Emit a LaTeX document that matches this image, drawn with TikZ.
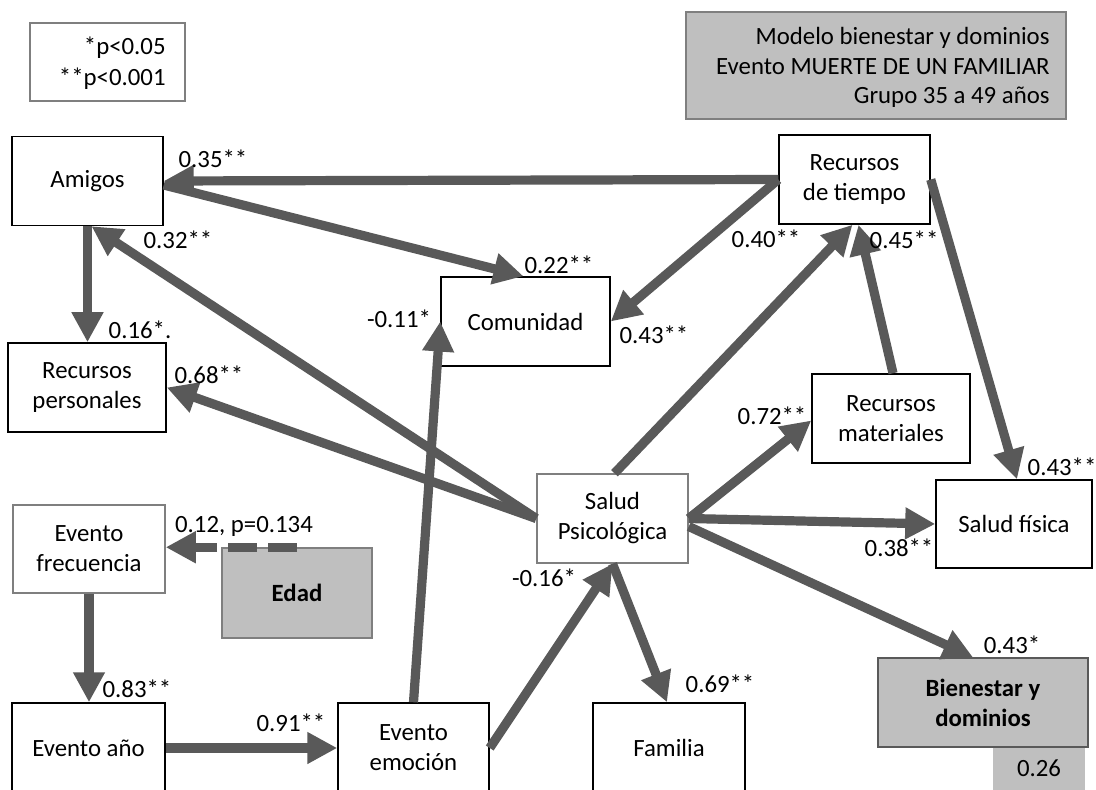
\documentclass[tikz,border=0pt]{standalone}
\usepackage{fontspec}
\setmainfont{Carlito}
\usetikzlibrary{arrows.meta}
\definecolor{arrowgray}{HTML}{595959}
\definecolor{boxgray}{HTML}{BFBFBF}
\definecolor{edgegray}{HTML}{7F7F7F}
\begin{document}
\begin{tikzpicture}[x=0.5pt,y=-0.5pt,
  every node/.style={font=\fontsize{12.4}{15}\selectfont, inner sep=0pt},
  varbox/.style={draw=black, line width=0.75pt, fill=white, align=center,
    minimum width=75.5pt, minimum height=44.5pt},
  softbox/.style={varbox, draw=edgegray},
  shadebox/.style={varbox, draw=edgegray, fill=boxgray, font=\fontsize{12.4}{15}\selectfont\bfseries},
  path/.style={draw=arrowgray, line width=4.6pt, -{Triangle[length=15pt,width=15pt]}},
  weak/.style={path, dash pattern=on 14.5pt off 5.5pt},
  coef/.style={anchor=center}]
\clip (0,0) rectangle (1096,790);
\fill[white] (0,0) rectangle (1096,790);

% legend and title
\node[draw=edgegray, line width=0.75pt, minimum width=77.5pt, minimum height=39pt] (legend) at (107.5,62) {};
\node[anchor=east, align=right, font=\fontsize{12.4}{15.5}\selectfont] (legendtxt) at (166,63) {*p<0.05\\**p<0.001};
\node[draw=edgegray, fill=boxgray, line width=0.75pt, minimum width=190pt, minimum height=53.5pt] (title) at (876,65.5) {};
\node[anchor=east, align=right, font=\fontsize{12.4}{14.75}\selectfont] (titletxt) at (1050,67.5)
  {Modelo bienestar y dominios\\Evento MUERTE DE UN FAMILIAR\\Grupo 35 a 49 años};

% variables
\node[varbox] (amigos) at (87.5,181) {Amigos};
\node[varbox] (rtiempo) at (854.5,179.5) {Recursos\\de tiempo};
\node[varbox, minimum width=84.5pt] (comunidad) at (525.5,321.5) {Comunidad};
\node[varbox, minimum width=79pt] (rpers) at (87,387.5) {Recursos\\personales};
\node[varbox, minimum width=79pt] (rmat) at (891,418.5) {Recursos\\materiales};
\node[softbox] (salpsi) at (612.5,518.5) {Salud\\Psicológica};
\node[varbox, minimum width=78pt, minimum height=44pt] (salfis) at (1014,524) {Salud física};
\node[softbox, minimum width=76pt, minimum height=44pt] (evfrec) at (89,549) {Evento\\frecuencia};
\node[shadebox, minimum width=75pt, minimum height=45pt] (edad) at (297,593) {Edad};
\node[varbox, minimum width=76.5pt, minimum height=45pt] (evano) at (88.5,748) {Evento año};
\node[varbox, minimum height=45pt] (evemo) at (413.5,748) {Evento\\emoción};
\node[varbox, minimum width=76pt, minimum height=45pt] (familia) at (669,748) {Familia};
\node[shadebox, draw=arrowgray, minimum width=105pt, minimum height=44.5pt] (bienestar) at (983,702.5) {Bienestar y\\dominios};
\node[fill=boxgray, minimum width=46pt, minimum height=23pt] (rsq) at (1039,771) {};
\node (rsqtxt) at (1039,768) {0.26};

% paths
\draw[path] (rtiempo.west) -- (amigos.east);
\draw[path] (rtiempo.west) -- (comunidad.east);
\draw[path] ([yshift=-2pt]amigos.east) -- ([xshift=-1pt]comunidad.north);
\draw[path] (amigos.south) -- (amigos.south |- rpers.north);
\draw[path] (salpsi.west) -- ([xshift=2pt]amigos.south);
\draw[path] (salpsi.west) -- (rpers.east);
\draw[path] (evemo.north) -- (comunidad.west);
\draw[path] (evemo.east) -- (salpsi.south);
\draw[path] (salpsi.south) -- ([xshift=-1pt]familia.north);
\draw[path] (salpsi.east) -- ([yshift=-1pt]rmat.west);
\draw[path] (salpsi.east) -- (salfis.west);
\draw[path] ([yshift=-4pt]salpsi.east) -- ([xshift=-5pt]bienestar.north);
\draw[path] ([xshift=1pt]salpsi.north) -- ([xshift=-1pt]rtiempo.south);
\draw[path] ([xshift=1pt]rmat.north) -- ([xshift=2pt]rtiempo.south);
\draw[path] (rtiempo.east) -- ([xshift=1.5pt]salfis.north);
\draw[path] (evfrec.south) -- (evfrec.south |- evano.north);
\draw[path] (evano.east) -- (evemo.west);
\draw[weak] (edad.north) -- (evfrec.east |- edad.north);

% coefficients
\node[coef] (c1) at (213,159) {0.35**};
\node[coef] (c2) at (178,240) {0.32**};
\node[coef] (c3) at (559,265) {0.22**};
\node[coef] (c4) at (654,335) {0.43**};
\node[coef] (c5) at (399,319) {-0.11*};
\node[coef] (c6) at (766,239) {0.40**};
\node[coef] (c7) at (904,240) {0.45**};
\node[coef] (c8) at (140,330) {0.16*.};
\node[coef] (c9) at (209,375) {0.68**};
\node[coef] (c10) at (244,526) {0.12, p=0.134};
\node[coef] (c11) at (772,416) {0.72**};
\node[coef] (c12) at (1062,467) {0.43**};
\node[coef] (c13) at (899,548) {0.38**};
\node[coef] (c14) at (544,578) {-0.16*};
\node[coef] (c15) at (137,689) {0.83**};
\node[coef] (c16) at (291,723) {0.91**};
\node[coef] (c17) at (720,684) {0.69**};
\node[coef] (c18) at (1012,645) {0.43*};
\end{tikzpicture}
\end{document}
